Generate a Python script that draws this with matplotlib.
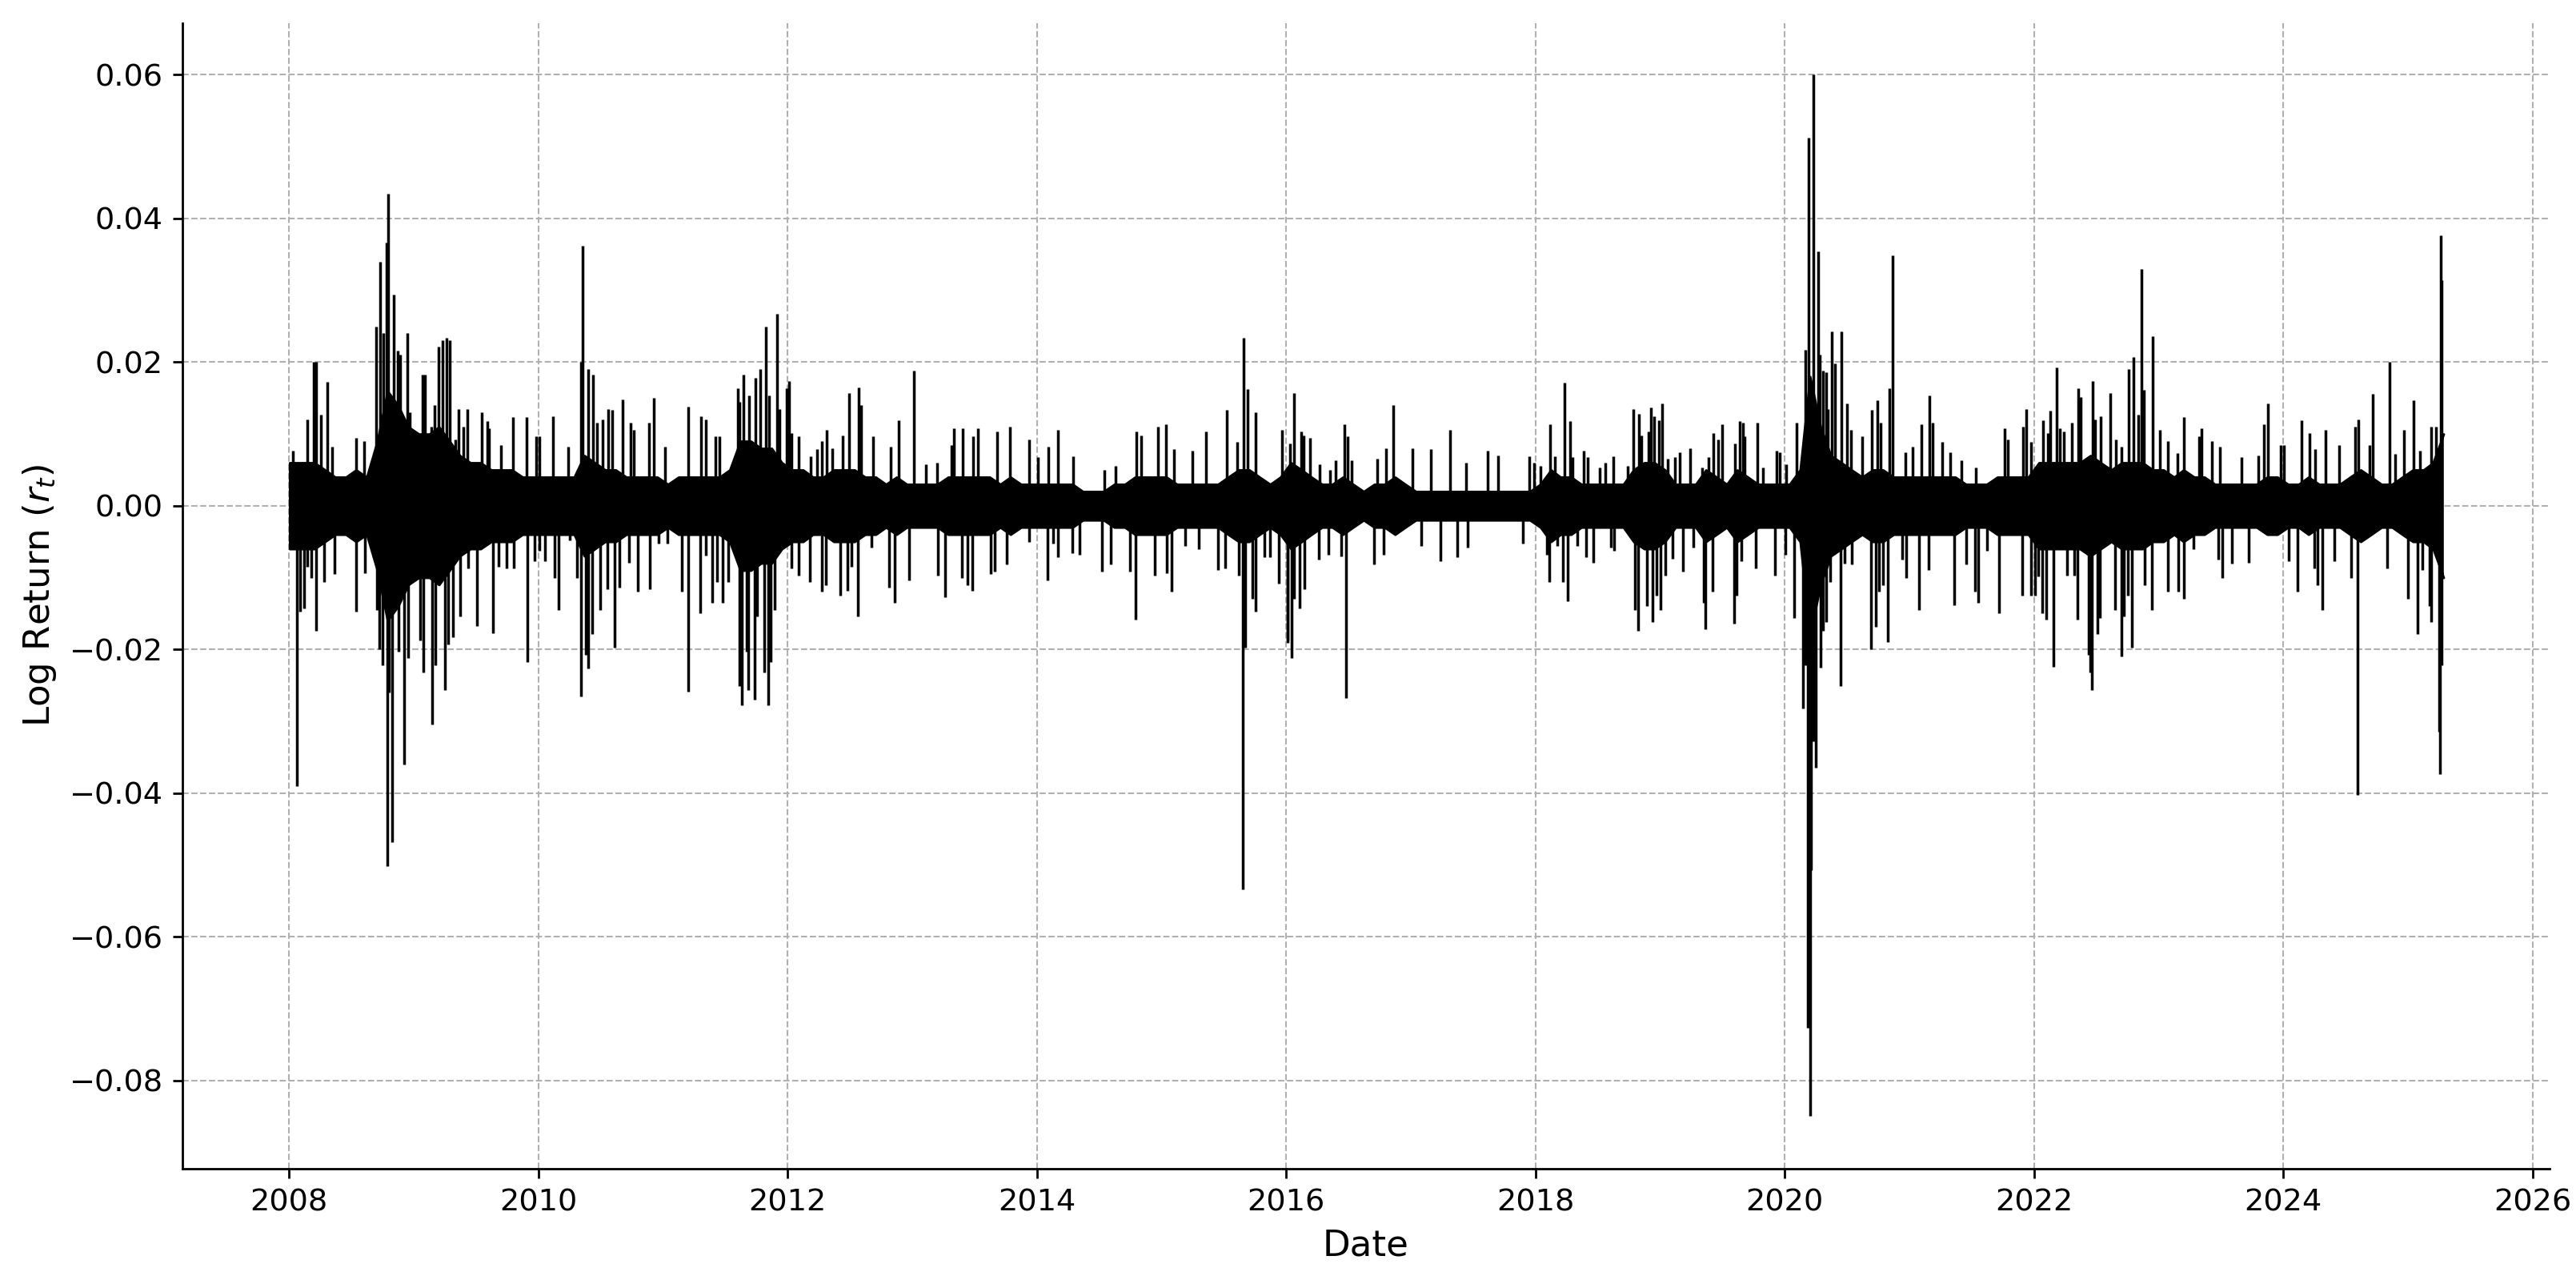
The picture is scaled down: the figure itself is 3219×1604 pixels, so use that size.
import matplotlib
matplotlib.use("Agg")
import matplotlib.pyplot as plt
import matplotlib.dates as mdates
import numpy as np
import pandas as pd

# ---------------- data ----------------
first_date = "2008-01-02"
last_date = "2025-04-11"

# monthly half-width of the dense core of daily log returns, 2008-01 .. 2025-04
core_2008 = [0.006, 0.006, 0.006, 0.005, 0.004, 0.004, 0.005, 0.004, 0.009, 0.016, 0.014, 0.011]
core_2009 = [0.010, 0.010, 0.011, 0.009, 0.007, 0.006, 0.006, 0.005, 0.005, 0.005, 0.004, 0.004]
core_2010 = [0.004, 0.004, 0.004, 0.004, 0.007, 0.006, 0.005, 0.005, 0.004, 0.004, 0.004, 0.004]
core_2011 = [0.003, 0.004, 0.004, 0.004, 0.004, 0.004, 0.005, 0.009, 0.009, 0.008, 0.008, 0.006]
core_2012 = [0.005, 0.005, 0.004, 0.004, 0.005, 0.005, 0.005, 0.004, 0.004, 0.003, 0.004, 0.003]
core_2013 = [0.003, 0.003, 0.003, 0.004, 0.004, 0.004, 0.004, 0.004, 0.003, 0.004, 0.003, 0.003]
core_2014 = [0.003, 0.003, 0.003, 0.003, 0.002, 0.002, 0.002, 0.003, 0.003, 0.004, 0.004, 0.004]
core_2015 = [0.004, 0.003, 0.003, 0.003, 0.003, 0.003, 0.004, 0.005, 0.005, 0.004, 0.003, 0.004]
core_2016 = [0.006, 0.005, 0.004, 0.003, 0.003, 0.004, 0.003, 0.002, 0.003, 0.003, 0.004, 0.003]
core_2017 = [0.002, 0.002, 0.002, 0.002, 0.002, 0.002, 0.002, 0.002, 0.002, 0.002, 0.002, 0.002]
core_2018 = [0.003, 0.005, 0.004, 0.004, 0.003, 0.003, 0.003, 0.003, 0.003, 0.005, 0.006, 0.006]
core_2019 = [0.005, 0.003, 0.003, 0.003, 0.005, 0.004, 0.003, 0.005, 0.004, 0.003, 0.003, 0.003]
core_2020 = [0.003, 0.005, 0.018, 0.011, 0.007, 0.006, 0.005, 0.004, 0.005, 0.005, 0.004, 0.004]
core_2021 = [0.004, 0.004, 0.004, 0.004, 0.004, 0.003, 0.003, 0.003, 0.004, 0.004, 0.004, 0.004]
core_2022 = [0.006, 0.006, 0.006, 0.006, 0.006, 0.007, 0.006, 0.005, 0.006, 0.006, 0.006, 0.005]
core_2023 = [0.005, 0.004, 0.005, 0.004, 0.004, 0.003, 0.003, 0.003, 0.003, 0.003, 0.004, 0.004]
core_2024 = [0.003, 0.003, 0.004, 0.003, 0.003, 0.003, 0.004, 0.005, 0.004, 0.003, 0.003, 0.004]
core_2025 = [0.005, 0.005, 0.006, 0.010]

# individual daily returns that stick out of the core: (date, log return)
spikes_up = [
    ("2008-01-12", 0.0077), ("2008-02-22", 0.0120), ("2008-03-12", 0.0200), ("2008-03-21", 0.0200),
    ("2008-04-04", 0.0127), ("2008-04-21", 0.0172), ("2008-05-05", 0.0082), ("2008-07-16", 0.0094),
    ("2008-08-07", 0.0090), ("2008-09-11", 0.0250), ("2008-09-23", 0.0340), ("2008-10-04", 0.0240),
    ("2008-10-12", 0.0367), ("2008-10-17", 0.0434), ("2008-11-03", 0.0294), ("2008-11-13", 0.0216),
    ("2008-11-22", 0.0210), ("2008-12-12", 0.0240), ("2008-12-20", 0.0130), ("2009-01-12", 0.0098),
    ("2009-01-25", 0.0183), ("2009-02-02", 0.0183), ("2009-02-21", 0.0110), ("2009-03-01", 0.0140),
    ("2009-03-13", 0.0222), ("2009-03-26", 0.0230), ("2009-04-05", 0.0234), ("2009-04-15", 0.0230),
    ("2009-05-03", 0.0092), ("2009-05-12", 0.0135), ("2009-05-25", 0.0110), ("2009-06-05", 0.0135),
    ("2009-07-18", 0.0130), ("2009-08-03", 0.0118), ("2009-08-09", 0.0108), ("2009-09-12", 0.0085),
    ("2009-10-18", 0.0124), ("2009-11-27", 0.0123), ("2009-12-25", 0.0097),
    ("2010-01-04", 0.0097), ("2010-02-11", 0.0125), ("2010-03-29", 0.0082), ("2010-05-06", 0.0200),
    ("2010-05-10", 0.0362), ("2010-05-27", 0.0190), ("2010-06-10", 0.0183), ("2010-06-22", 0.0116),
    ("2010-07-08", 0.0120), ("2010-07-23", 0.0135), ("2010-08-04", 0.0133), ("2010-09-03", 0.0148),
    ("2010-09-27", 0.0116), ("2010-10-06", 0.0106), ("2010-11-21", 0.0116), ("2010-12-04", 0.0150),
    ("2011-01-07", 0.0082), ("2011-03-16", 0.0138), ("2011-04-21", 0.0125), ("2011-05-07", 0.0120),
    ("2011-06-03", 0.0097), ("2011-06-16", 0.0097), ("2011-08-09", 0.0164), ("2011-08-13", 0.0145),
    ("2011-08-25", 0.0183), ("2011-09-10", 0.0154), ("2011-09-29", 0.0178), ("2011-10-13", 0.0190),
    ("2011-10-28", 0.0249), ("2011-11-07", 0.0154), ("2011-12-01", 0.0267), ("2011-12-08", 0.0135),
    ("2011-12-30", 0.0164),
    ("2012-01-05", 0.0174), ("2012-01-12", 0.0101), ("2012-02-03", 0.0097), ("2012-03-09", 0.0069),
    ("2012-03-26", 0.0079), ("2012-04-11", 0.0090), ("2012-04-25", 0.0106), ("2012-05-10", 0.0080),
    ("2012-06-09", 0.0098), ("2012-06-30", 0.0157), ("2012-07-27", 0.0165), ("2012-08-04", 0.0140),
    ("2012-09-08", 0.0097), ("2012-10-28", 0.0082), ("2012-11-21", 0.0119), ("2013-01-04", 0.0188),
    ("2013-02-10", 0.0058), ("2013-03-15", 0.0060),
    ("2013-04-24", 0.0085), ("2013-05-03", 0.0108), ("2013-05-28", 0.0108), ("2013-06-28", 0.0097),
    ("2013-07-12", 0.0108), ("2013-09-05", 0.0103), ("2013-10-13", 0.0110), ("2013-12-09", 0.0092),
    ("2014-01-03", 0.0068), ("2014-02-03", 0.0082), ("2014-03-04", 0.0106), ("2014-04-16", 0.0069),
    ("2014-07-17", 0.0050), ("2014-08-20", 0.0055), ("2014-10-18", 0.0103), ("2014-11-01", 0.0098),
    ("2014-12-20", 0.0110), ("2015-01-13", 0.0113), ("2015-02-06", 0.0079), ("2015-03-31", 0.0077),
    ("2015-05-10", 0.0103), ("2015-07-10", 0.0133), ("2015-08-11", 0.0089), ("2015-08-28", 0.0234),
    ("2015-09-10", 0.0162), ("2015-10-03", 0.0130), ("2015-12-19", 0.0106),
    ("2016-01-11", 0.0087), ("2016-01-23", 0.0157), ("2016-02-14", 0.0103), ("2016-02-22", 0.0098),
    ("2016-03-11", 0.0094), ("2016-04-08", 0.0058), ("2016-05-09", 0.0050), ("2016-05-25", 0.0063),
    ("2016-06-20", 0.0114), ("2016-06-30", 0.0097), ("2016-07-11", 0.0063), ("2016-09-23", 0.0066),
    ("2016-10-19", 0.0080), ("2016-11-09", 0.0140), ("2017-01-04", 0.0080), ("2017-03-01", 0.0079),
    ("2017-04-25", 0.0106), ("2017-06-12", 0.0060), ("2017-08-14", 0.0077), ("2017-09-12", 0.0070),
    ("2017-12-13", 0.0069), ("2017-12-27", 0.0060),
    ("2018-01-16", 0.0056), ("2018-02-13", 0.0113), ("2018-02-27", 0.0069), ("2018-03-27", 0.0171),
    ("2018-04-11", 0.0118), ("2018-04-20", 0.0068), ("2018-05-22", 0.0077), ("2018-06-02", 0.0068),
    ("2018-07-07", 0.0053), ("2018-07-24", 0.0060), ("2018-08-16", 0.0069), ("2018-09-29", 0.0056),
    ("2018-10-15", 0.0135), ("2018-10-30", 0.0128), ("2018-11-07", 0.0098), ("2018-11-28", 0.0103),
    ("2018-12-04", 0.0137), ("2018-12-14", 0.0125), ("2018-12-28", 0.0119), ("2019-01-07", 0.0142),
    ("2019-01-22", 0.0066), ("2019-02-14", 0.0068), ("2019-02-28", 0.0074), ("2019-03-30", 0.0080),
    ("2019-05-04", 0.0053), ("2019-05-22", 0.0068), ("2019-06-05", 0.0101), ("2019-06-21", 0.0092),
    ("2019-07-02", 0.0114), ("2019-08-08", 0.0087), ("2019-08-21", 0.0118), ("2019-09-01", 0.0116),
    ("2019-09-05", 0.0097), ("2019-10-13", 0.0116), ("2019-10-29", 0.0053), ("2019-12-07", 0.0077),
    ("2019-12-18", 0.0074),
    ("2020-01-06", 0.0058), ("2020-02-05", 0.0116), ("2020-03-02", 0.0217), ("2020-03-12", 0.0513),
    ("2020-03-24", 0.0600), ("2020-04-07", 0.0354), ("2020-04-13", 0.0210), ("2020-04-22", 0.0188),
    ("2020-05-01", 0.0186), ("2020-05-07", 0.0135), ("2020-05-18", 0.0243), ("2020-05-27", 0.0198),
    ("2020-06-16", 0.0243), ("2020-07-01", 0.0143), ("2020-07-13", 0.0106), ("2020-08-14", 0.0097),
    ("2020-09-11", 0.0133), ("2020-09-29", 0.0147), ("2020-10-08", 0.0116), ("2020-11-03", 0.0164),
    ("2020-11-11", 0.0349), ("2020-12-19", 0.0075), ("2021-01-10", 0.0082), ("2021-02-04", 0.0113),
    ("2021-03-01", 0.0154), ("2021-03-10", 0.0116), ("2021-04-06", 0.0089), ("2021-05-01", 0.0074),
    ("2021-06-02", 0.0063), ("2021-07-15", 0.0053), ("2021-10-07", 0.0108), ("2021-10-16", 0.0092),
    ("2021-11-30", 0.0110), ("2021-12-09", 0.0135), ("2021-12-22", 0.0089),
    ("2022-01-28", 0.0119), ("2022-02-10", 0.0101), ("2022-02-18", 0.0132), ("2022-03-09", 0.0193),
    ("2022-03-17", 0.0108), ("2022-03-28", 0.0104), ("2022-04-22", 0.0116), ("2022-05-10", 0.0164),
    ("2022-05-18", 0.0151), ("2022-06-22", 0.0174), ("2022-06-28", 0.0120), ("2022-07-16", 0.0125),
    ("2022-08-12", 0.0157), ("2022-08-28", 0.0092), ("2022-09-15", 0.0082), ("2022-10-06", 0.0190),
    ("2022-10-18", 0.0207), ("2022-11-01", 0.0127), ("2022-11-11", 0.0330), ("2022-11-19", 0.0161),
    ("2022-12-15", 0.0236), ("2023-01-05", 0.0106), ("2023-01-29", 0.0090), ("2023-02-24", 0.0073),
    ("2023-03-15", 0.0123), ("2023-04-30", 0.0097), ("2023-05-07", 0.0108), ("2023-06-05", 0.0090),
    ("2023-06-30", 0.0082), ("2023-08-31", 0.0068), ("2023-10-21", 0.0070), ("2023-11-05", 0.0114),
    ("2023-11-17", 0.0143), ("2023-12-25", 0.0084),
    ("2024-01-02", 0.0084), ("2024-02-23", 0.0119), ("2024-03-18", 0.0101), ("2024-04-03", 0.0079),
    ("2024-05-04", 0.0106), ("2024-06-12", 0.0085), ("2024-07-29", 0.0110), ("2024-08-08", 0.0120),
    ("2024-09-10", 0.0085), ("2024-09-20", 0.0156), ("2024-11-07", 0.0200), ("2024-11-25", 0.0072),
    ("2024-12-20", 0.0106), ("2025-01-16", 0.0147), ("2025-02-05", 0.0077), ("2025-03-10", 0.0110),
    ("2025-03-24", 0.0110), ("2025-04-07", 0.0376), ("2025-04-10", 0.0314),
]

spikes_down = [
    ("2008-01-24", -0.0390), ("2008-02-03", -0.0147), ("2008-02-13", -0.0143), ("2008-02-22", -0.0085),
    ("2008-03-05", -0.0100), ("2008-03-20", -0.0174), ("2008-04-13", -0.0106), ("2008-05-12", -0.0095),
    ("2008-07-14", -0.0147), ("2008-08-10", -0.0094), ("2008-09-13", -0.0145), ("2008-09-20", -0.0200),
    ("2008-10-01", -0.0222), ("2008-10-14", -0.0502), ("2008-10-20", -0.0260), ("2008-10-28", -0.0468),
    ("2008-11-17", -0.0203), ("2008-12-04", -0.0360), ("2008-12-15", -0.0212), ("2009-01-19", -0.0188),
    ("2009-01-28", -0.0232), ("2009-02-22", -0.0304), ("2009-03-05", -0.0222), ("2009-04-02", -0.0256),
    ("2009-04-10", -0.0193), ("2009-04-24", -0.0183), ("2009-05-17", -0.0154), ("2009-06-08", -0.0087),
    ("2009-07-04", -0.0167), ("2009-08-21", -0.0177), ("2009-09-06", -0.0085), ("2009-09-28", -0.0087),
    ("2009-10-21", -0.0087), ("2009-11-30", -0.0217), ("2009-12-20", -0.0077),
    ("2010-01-04", -0.0063), ("2010-01-20", -0.0077), ("2010-02-16", -0.0100), ("2010-03-01", -0.0145),
    ("2010-04-02", -0.0048), ("2010-04-24", -0.0100), ("2010-05-06", -0.0265), ("2010-05-19", -0.0207),
    ("2010-05-27", -0.0227), ("2010-06-07", -0.0178), ("2010-06-30", -0.0145), ("2010-07-21", -0.0116),
    ("2010-08-12", -0.0198), ("2010-08-25", -0.0114), ("2010-09-24", -0.0079), ("2010-10-19", -0.0120),
    ("2010-11-24", -0.0116), ("2010-12-19", -0.0053), ("2011-01-14", -0.0053), ("2011-02-24", -0.0120),
    ("2011-03-16", -0.0259), ("2011-04-19", -0.0150), ("2011-05-07", -0.0069), ("2011-05-24", -0.0135),
    ("2011-06-08", -0.0106), ("2011-06-24", -0.0135), ("2011-07-11", -0.0106), ("2011-08-12", -0.0251),
    ("2011-08-20", -0.0278), ("2011-09-02", -0.0203), ("2011-09-08", -0.0256), ("2011-09-25", -0.0270),
    ("2011-10-03", -0.0154), ("2011-10-24", -0.0232), ("2011-11-04", -0.0278), ("2011-11-11", -0.0217),
    ("2011-11-23", -0.0145),
    ("2012-01-12", -0.0087), ("2012-02-01", -0.0097), ("2012-03-07", -0.0106), ("2012-04-10", -0.0120),
    ("2012-04-23", -0.0110), ("2012-06-03", -0.0125), ("2012-06-25", -0.0118), ("2012-07-07", -0.0085),
    ("2012-07-24", -0.0154), ("2012-09-03", -0.0058), ("2012-10-25", -0.0114), ("2012-11-09", -0.0135),
    ("2012-12-22", -0.0104), ("2013-03-16", -0.0097), ("2013-04-06", -0.0127), ("2013-05-25", -0.0100),
    ("2013-06-11", -0.0110), ("2013-06-25", -0.0118), ("2013-08-17", -0.0095), ("2013-08-29", -0.0092),
    ("2013-10-03", -0.0082), ("2013-12-08", -0.0050),
    ("2014-02-01", -0.0104), ("2014-02-16", -0.0053), ("2014-03-04", -0.0072), ("2014-04-14", -0.0066),
    ("2014-05-06", -0.0068), ("2014-07-11", -0.0092), ("2014-08-05", -0.0082), ("2014-10-01", -0.0092),
    ("2014-10-16", -0.0159), ("2014-12-11", -0.0097), ("2015-01-16", -0.0094), ("2015-01-30", -0.0120),
    ("2015-03-10", -0.0056), ("2015-04-20", -0.0060), ("2015-06-15", -0.0089), ("2015-07-06", -0.0087),
    ("2015-08-14", -0.0097), ("2015-08-26", -0.0534), ("2015-09-03", -0.0198), ("2015-09-23", -0.0130),
    ("2015-10-04", -0.0147), ("2015-10-30", -0.0072), ("2015-11-15", -0.0072), ("2015-12-10", -0.0108),
    ("2016-01-04", -0.0191), ("2016-01-06", -0.0188), ("2016-01-16", -0.0212), ("2016-01-24", -0.0130),
    ("2016-02-09", -0.0143), ("2016-02-24", -0.0116), ("2016-04-05", -0.0075), ("2016-05-04", -0.0068),
    ("2016-06-11", -0.0070), ("2016-06-24", -0.0268), ("2016-09-15", -0.0082), ("2016-10-13", -0.0068),
    ("2017-01-31", -0.0056), ("2017-03-28", -0.0077), ("2017-05-17", -0.0072), ("2017-06-15", -0.0058),
    ("2017-11-24", -0.0053),
    ("2018-02-04", -0.0068), ("2018-02-09", -0.0106), ("2018-03-06", -0.0056), ("2018-03-21", -0.0106),
    ("2018-04-04", -0.0133), ("2018-05-04", -0.0056), ("2018-05-30", -0.0072), ("2018-06-18", -0.0079),
    ("2018-08-10", -0.0058), ("2018-08-18", -0.0063), ("2018-10-19", -0.0145), ("2018-10-28", -0.0174),
    ("2018-11-23", -0.0140), ("2018-12-10", -0.0162), ("2018-12-22", -0.0125), ("2019-01-03", -0.0145),
    ("2019-01-16", -0.0097), ("2019-02-06", -0.0074), ("2019-03-08", -0.0092), ("2019-04-08", -0.0058),
    ("2019-05-08", -0.0135), ("2019-05-14", -0.0172), ("2019-06-03", -0.0120), ("2019-08-06", -0.0164),
    ("2019-08-13", -0.0125), ("2019-08-26", -0.0077), ("2019-10-07", -0.0087), ("2019-12-04", -0.0097),
    ("2020-01-04", -0.0068), ("2020-01-28", -0.0156), ("2020-02-24", -0.0282), ("2020-03-02", -0.0222),
    ("2020-03-09", -0.0727), ("2020-03-16", -0.0850), ("2020-03-19", -0.0507), ("2020-03-26", -0.0328),
    ("2020-04-01", -0.0365), ("2020-04-15", -0.0225), ("2020-04-21", -0.0174), ("2020-05-02", -0.0162),
    ("2020-05-14", -0.0106), ("2020-06-12", -0.0251), ("2020-06-24", -0.0080), ("2020-07-16", -0.0082),
    ("2020-09-09", -0.0200), ("2020-09-23", -0.0169), ("2020-10-03", -0.0120), ("2020-10-16", -0.0110),
    ("2020-10-29", -0.0190), ("2020-12-11", -0.0075), ("2020-12-22", -0.0100), ("2021-01-29", -0.0145),
    ("2021-02-25", -0.0089), ("2021-05-12", -0.0138), ("2021-06-17", -0.0082), ("2021-07-11", -0.0120),
    ("2021-07-20", -0.0135), ("2021-08-17", -0.0063), ("2021-09-21", -0.0150), ("2021-11-26", -0.0125),
    ("2021-12-22", -0.0125),
    ("2022-01-03", -0.0125), ("2022-01-12", -0.0098), ("2022-01-24", -0.0150), ("2022-02-05", -0.0159),
    ("2022-02-27", -0.0224), ("2022-04-07", -0.0097), ("2022-04-29", -0.0097), ("2022-05-08", -0.0159),
    ("2022-06-10", -0.0207), ("2022-06-14", -0.0232), ("2022-06-19", -0.0256), ("2022-07-06", -0.0178),
    ("2022-07-12", -0.0156), ("2022-08-25", -0.0145), ("2022-09-14", -0.0210), ("2022-09-22", -0.0154),
    ("2022-10-03", -0.0125), ("2022-10-14", -0.0198), ("2022-11-22", -0.0110), ("2022-12-13", -0.0145),
    ("2023-01-27", -0.0120), ("2023-02-27", -0.0120), ("2023-03-16", -0.0130), ("2023-04-12", -0.0060),
    ("2023-06-24", -0.0075), ("2023-07-07", -0.0100), ("2023-08-04", -0.0080), ("2023-09-21", -0.0079),
    ("2024-01-18", -0.0077), ("2024-02-13", -0.0120), ("2024-04-01", -0.0087), ("2024-04-11", -0.0110),
    ("2024-04-24", -0.0145), ("2024-05-30", -0.0077), ("2024-07-17", -0.0100), ("2024-08-05", -0.0403),
    ("2024-11-01", -0.0087), ("2025-01-01", -0.0130), ("2025-01-29", -0.0178), ("2025-02-11", -0.0089),
    ("2025-03-05", -0.0140), ("2025-03-10", -0.0162), ("2025-04-02", -0.0314), ("2025-04-04", -0.0374),
    ("2025-04-09", -0.0222),
]

# ---------------- assemble ----------------
core = (core_2008 + core_2009 + core_2010 + core_2011 + core_2012 + core_2013 + core_2014 +
        core_2015 + core_2016 + core_2017 + core_2018 + core_2019 + core_2020 + core_2021 +
        core_2022 + core_2023 + core_2024 + core_2025)
core_dates = pd.date_range("2008-01-01", periods=len(core), freq="MS") + pd.Timedelta(days=14)
band_x = [pd.Timestamp(first_date)] + list(core_dates) + [pd.Timestamp(last_date)]
band_y = np.array([core[0]] + core + [core[-1]])

spikes = spikes_up + spikes_down
spike_x = pd.to_datetime([d for d, _ in spikes])
spike_y = np.array([v for _, v in spikes])

# ---------------- plot ----------------
DPI = 250
fig = plt.figure(figsize=(3219 / DPI, 1604 / DPI), dpi=DPI)
ax = fig.add_axes([0.0708, 0.0898, 0.9190, 0.8922])

ax.fill_between(band_x, -band_y, band_y, facecolor="black", edgecolor="black", linewidth=0.8, zorder=3)
ax.vlines(spike_x, 0, spike_y, colors="black", linewidth=1.0, zorder=3)

ax.set_xlim(pd.Timestamp("2007-02-22"), pd.Timestamp("2026-02-20"))
ax.set_ylim(-0.0923, 0.0672)
ax.set_yticks([-0.08, -0.06, -0.04, -0.02, 0.0, 0.02, 0.04, 0.06])
ax.xaxis.set_major_locator(mdates.YearLocator(2))
ax.xaxis.set_major_formatter(mdates.DateFormatter("%Y"))

ax.grid(True, linestyle="--", linewidth=0.6, color="#b0b0b0")
ax.set_axisbelow(True)
for s in ("top", "right"):
    ax.spines[s].set_visible(False)
for s in ("left", "bottom"):
    ax.spines[s].set_linewidth(0.8)

ax.tick_params(axis="both", labelsize=11, length=3.5, width=0.8)
ax.set_xlabel("Date", fontsize=13)
ax.set_ylabel("Log Return ($r_t$)", fontsize=13)

fig.savefig("out.png", dpi=DPI)
